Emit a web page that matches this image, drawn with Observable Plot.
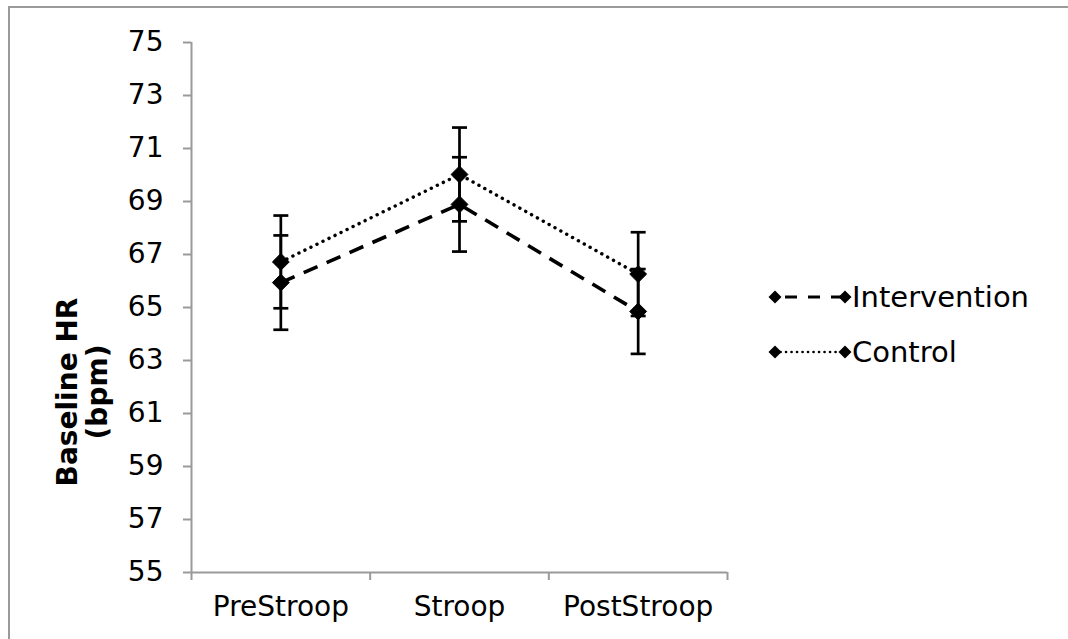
<!DOCTYPE html>
<html>
<head>
<meta charset="utf-8">
<script src="https://cdn.jsdelivr.net/npm/d3@7"></script>
<script src="https://cdn.jsdelivr.net/npm/@observablehq/plot@0.6"></script>
<style>
  html, body { margin: 0; padding: 0; background: #fff; }
  body { width: 1068px; height: 639px; overflow: hidden; position: relative; font-family: Verdana, "DejaVu Sans", sans-serif; }
  #border { position: absolute; left: 8px; top: 6px; width: 1200px; height: 800px; border-left: 2px solid #9a9a9a; border-top: 2px solid #9a9a9a; }
  #chart { position: absolute; left: 0; top: 0; }
  #ytitle { position: absolute; left: 83px; top: 392px; transform: translate(-50%, -50%) rotate(-90deg); font-weight: bold; font-size: 28px; line-height: 30px; text-align: center; white-space: nowrap; color: #000; }
  #legend { position: absolute; left: 767px; top: 282px; font-size: 29px; color: #000; }
  .row { display: flex; align-items: center; height: 30px; margin-bottom: 25px; }
  .row svg { display: block; }
  .row span { line-height: 30px; }
  g[aria-label="y-axis tick"] path, g[aria-label="x-axis tick"] path { stroke: #9a9a9a !important; }
</style>
</head>
<body>
<div id="border"></div>
<div id="chart"></div>
<div id="ytitle">Baseline HR<br>(bpm)</div>
<div id="legend"></div>
<script>
// ---- data ----
const categories = ["PreStroop", "Stroop", "PostStroop"];
const seriesNames = ["Intervention", "Control"];
const intervention = [65.94, 68.89, 64.85];
const interventionSE = [1.78, 1.78, 1.60];
const control = [66.72, 70.02, 66.26];
const controlSE = [1.75, 1.77, 1.58];
const yTicks = [55, 57, 59, 61, 63, 65, 67, 69, 71, 73, 75];

// ---- table ----
const rows = categories.flatMap((c, i) => [
  {cat: c, i, series: "Intervention", mean: intervention[i], se: interventionSE[i]},
  {cat: c, i, series: "Control", mean: control[i], se: controlSE[i]}
]);
const xPos = d => d.i + 0.5;
const dashes = {Intervention: "15 10", Control: "0.1 6.6"};

const capSymbol = {
  draw(ctx, size) {
    const w = Math.sqrt(size / Math.PI);
    ctx.moveTo(-w, 0);
    ctx.lineTo(w, 0);
  }
};

const plot = Plot.plot({
  width: 1068,
  height: 639,
  marginLeft: 191,
  marginRight: 341,
  marginTop: 42,
  marginBottom: 67,
  style: {fontFamily: "Verdana, 'DejaVu Sans', sans-serif", fontSize: "28px", color: "#000", background: "transparent", overflow: "visible"},
  x: {domain: [0, categories.length], axis: null},
  y: {domain: [55, 75], axis: null},
  marks: [
    Plot.ruleX([0], {stroke: "#9a9a9a", strokeWidth: 2}),
    Plot.ruleY([55], {stroke: "#9a9a9a", strokeWidth: 2}),
    Plot.axisY({ticks: yTicks, tickSize: 8, tickPadding: 20, label: null, fontSize: 28, stroke: "#9a9a9a", strokeWidth: 2, fill: "#000"}),
    Plot.axisX({ticks: d3.range(categories.length + 1), tickSize: 8, tickFormat: () => "", label: null, stroke: "#9a9a9a", strokeWidth: 2}),
    Plot.axisX({ticks: categories.map((c, i) => i + 0.5), tickSize: 0, tickPadding: 24, tickFormat: v => categories[Math.floor(v)], label: null, fontSize: 28, fill: "#000"}),
    ...seriesNames.map(s => Plot.line(rows.filter(d => d.series === s), {
      x: xPos, y: "mean", stroke: "#000",
      strokeWidth: s === "Control" ? 3.4 : 3.6,
      strokeDasharray: dashes[s], strokeLinecap: s === "Control" ? "round" : "butt"
    })),
    Plot.ruleX(rows, {x: xPos, y1: d => d.mean - d.se, y2: d => d.mean + d.se, stroke: "#000", strokeWidth: 2.7}),
    Plot.dot(rows, {x: xPos, y: d => d.mean - d.se, symbol: capSymbol, r: 7.5, stroke: "#000", strokeWidth: 2.7, fill: "none"}),
    Plot.dot(rows, {x: xPos, y: d => d.mean + d.se, symbol: capSymbol, r: 7.5, stroke: "#000", strokeWidth: 2.7, fill: "none"}),
    Plot.dot(rows, {x: xPos, y: "mean", symbol: "diamond2", r: 7.6, fill: "#000", stroke: "#000", strokeWidth: 1})
  ]
});
document.getElementById("chart").appendChild(plot);

// ---- legend ----
const legend = document.getElementById("legend");
const ns = "http://www.w3.org/2000/svg";
seriesNames.forEach(s => {
  const row = document.createElement("div");
  row.className = "row";
  const svg = document.createElementNS(ns, "svg");
  svg.setAttribute("width", 85);
  svg.setAttribute("height", 30);
  const line = document.createElementNS(ns, "line");
  line.setAttribute("x1", 8); line.setAttribute("x2", 78);
  line.setAttribute("y1", 15); line.setAttribute("y2", 15);
  line.setAttribute("stroke", "#000");
  line.setAttribute("stroke-width", s === "Control" ? 2.6 : 3.2);
  line.setAttribute("stroke-dasharray", s === "Control" ? "0.1 5.4" : "12 11");
  if (s === "Control") line.setAttribute("stroke-linecap", "round");
  else line.setAttribute("stroke-dashoffset", "-10");
  svg.appendChild(line);
  [8, 78].forEach(cx => {
    const p = document.createElementNS(ns, "path");
    p.setAttribute("d", `M${cx},${15 - 6.5}L${cx + 6.5},15L${cx},${15 + 6.5}L${cx - 6.5},15Z`);
    p.setAttribute("fill", "#000");
    svg.appendChild(p);
  });
  row.appendChild(svg);
  const t = document.createElement("span");
  t.textContent = s;
  row.appendChild(t);
  legend.appendChild(row);
});
</script>
</body>
</html>
